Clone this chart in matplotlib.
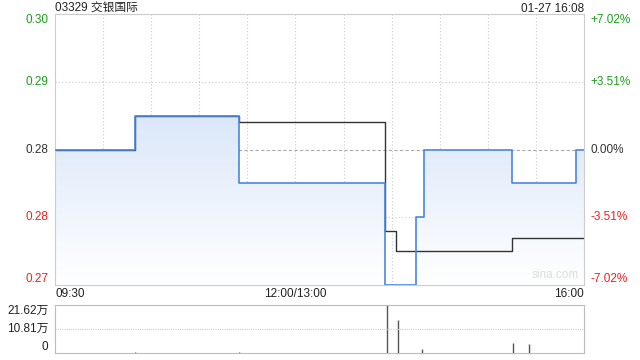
import matplotlib.pyplot as plt
import numpy as np
from matplotlib.colors import LinearSegmentedColormap

plt.rcParams['font.family'] = ['Liberation Sans', 'Noto Sans CJK SC', 'DejaVu Sans']

prev_close = 0.285
title = '03329 交银国际'
stamp = '01-27 16:08'

# price (step changes) - time, value
price_times = ['09:30', '10:20', '11:25', '13:56', '14:15', '14:20', '15:15', '15:55', '16:00']
price_vals = [0.285, 0.290, 0.280, 0.265, 0.275, 0.285, 0.280, 0.285, 0.285]

# average price line
avg_times = ['09:30', '10:20', '11:25', '13:56', '14:03', '15:15', '16:00']
avg_vals = [0.285, 0.290, 0.2890, 0.2730, 0.2700, 0.2720, 0.2720]

# volume in 万
vol_times = ['10:20', '10:55', '11:25', '13:57', '14:04', '14:19', '15:16', '15:26']
vol_vals = [0.3, 0.2, 0.3, 21.62, 14.9, 1.8, 4.6, 4.0]
vol_ticks = [21.62, 10.81, 0]
vol_labels = ['21.62万', '10.81万', '0']

y_ticks = [0.305, 0.295, 0.285, 0.275, 0.265]
y_labels = ['0.30', '0.29', '0.28', '0.28', '0.27']
pct_labels = ['+7.02%', '+3.51%', '0.00%', '-3.51%', '-7.02%']
tick_colors = ['#1a9f1a', '#1a9f1a', '#333333', '#f0201a', '#f0201a']
fs = 8.5


def to_min(t):
    h, m = map(int, t.split(':'))
    m = h * 60 + m
    if m >= 13 * 60:
        return m - 9 * 60 - 30 - 60
    return m - 9 * 60 - 30


px = [to_min(t) for t in price_times]
ax_ = [to_min(t) for t in avg_times]
vx = [to_min(t) for t in vol_times]

fig = plt.figure(figsize=(6.4, 3.6), dpi=100)
ax = fig.add_axes([55 / 640, 1 - 285 / 360, 529 / 640, 271 / 360])
axv = fig.add_axes([55 / 640, 1 - 353 / 360, 529 / 640, 48 / 360])

ax.set_xlim(0, 330)
ax.set_ylim(0.265, 0.305)

# gradient fill under price
grad = np.linspace(0, 1, 100).reshape(-1, 1)
cmap = LinearSegmentedColormap.from_list('g', ['#ffffff', '#dbe7f9'])
img = ax.imshow(grad, cmap=cmap, aspect='auto', origin='lower',
                extent=[0, 330, 0.265, 0.290], zorder=1)
fill = ax.fill_between(px, price_vals, 0.265, step='post', color='none')
img.set_clip_path(fill.get_paths()[0], transform=ax.transData)

# grid
for m in range(30, 330, 30):
    ax.axvline(m, color='#cccccc', lw=0.8, ls=(0, (1, 2)), zorder=0)
for v in [0.295, 0.275]:
    ax.axhline(v, color='#cccccc', lw=0.8, ls=(0, (1, 2)), zorder=0)
ax.axhline(prev_close, color='#aaaaaa', lw=0.8, ls=(0, (3, 2)), zorder=0)

ax.plot(ax_, avg_vals, drawstyle='steps-post', color='#333333', lw=1.0, zorder=2)
ax.plot(px, price_vals, drawstyle='steps-post', color='#4a86e0', lw=1.2, zorder=3)

for s in ax.spines.values():
    s.set_color('#cccccc')
ax.set_xticks([])
ax.set_yticks([])

# y labels both sides
for v, lab, pct, c in zip(y_ticks, y_labels, pct_labels, tick_colors):
    va = 'center'
    if v == 0.305:
        va = 'top'
    elif v == 0.265:
        va = 'bottom'
    ax.text(-4, v, lab, color=c, fontsize=fs, ha='right', va=va)
    ax.text(334, v, pct, color=c, fontsize=fs, ha='left', va=va)

fig.text(55 / 640, 1 - 12 / 360, title, fontsize=fs, color='#222222', ha='left', va='baseline')
fig.text(584 / 640, 1 - 12 / 360, stamp, fontsize=fs, color='#222222', ha='right', va='baseline')
ax.text(0.99, 0.015, 'sina.com', transform=ax.transAxes, fontsize=fs, color='#dddddd', ha='right', va='bottom')

# x labels
ax.text(0, -0.012, '09:30', transform=ax.transAxes, fontsize=fs, color='#222222', ha='left', va='top')
ax.text(150 / 330, -0.012, '12:00/13:00', transform=ax.transAxes, fontsize=fs, color='#222222', ha='center', va='top')
ax.text(1, -0.012, '16:00', transform=ax.transAxes, fontsize=fs, color='#222222', ha='right', va='top')

# volume
axv.set_xlim(0, 330)
axv.set_ylim(0, 21.62)
axv.vlines(vx, 0, vol_vals, color='#555555', lw=1.0)
axv.axhline(10.81, color='#cccccc', lw=0.8, ls=(0, (1, 1)))
for s in axv.spines.values():
    s.set_color('#bbbbbb')
    s.set_linestyle((0, (1, 1)))
axv.set_xticks([])
axv.set_yticks([])
for v, lab in zip(vol_ticks, vol_labels):
    va = 'center'
    if v == vol_ticks[0]:
        va = 'top'
    elif v == 0:
        va = 'bottom'
    axv.text(-4, v, lab, fontsize=fs, color='#222222', ha='right', va=va)

fig.savefig('out.png', dpi=100)
